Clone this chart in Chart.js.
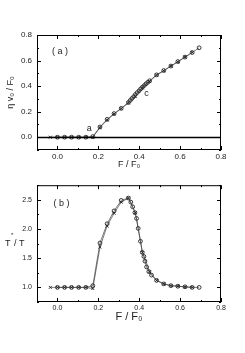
<!DOCTYPE html>
<html>
<head>
<meta charset="utf-8">
<script src="https://cdn.jsdelivr.net/npm/chart.js@4.4.1/dist/chart.umd.min.js"></script>
<style>
  html, body { margin: 0; padding: 0; background: #fff; }
  #wrap { position: relative; width: 245px; height: 353px; }
  canvas { position: absolute; left: 0; }
  #chartA { top: 0; }
  #chartB { top: 176px; }
</style>
</head>
<body>
<div id="wrap">
  <canvas id="chartA" width="245" height="176"></canvas>
  <canvas id="chartB" width="245" height="177"></canvas>
</div>
<script>
// F / F0 for the "x" series (both panels)
const fCross = [-0.035, 0, 0.035, 0.069, 0.104, 0.139, 0.173, 0.208, 0.243, 0.277, 0.312,
  0.347, 0.381, 0.416, 0.451, 0.485, 0.52, 0.555, 0.589, 0.624, 0.659];

// panel (a): eta v0 / F0
const vCrossA = [0, 0, 0, 0, 0, 0, 0, 0.076, 0.135, 0.182, 0.224,
  0.268, 0.318, 0.385, 0.437, 0.486, 0.52, 0.557, 0.59, 0.627, 0.664];
const fCircleA = [0, 0.035, 0.069, 0.104, 0.139, 0.173, 0.208, 0.243, 0.277, 0.312, 0.347,
  0.356, 0.364, 0.373, 0.381, 0.39, 0.399, 0.407, 0.416, 0.425, 0.433, 0.442, 0.451,
  0.485, 0.52, 0.555, 0.589, 0.624, 0.659, 0.693];
const vCircleA = [0, 0, 0, 0, 0, 0.005, 0.08, 0.14, 0.185, 0.226, 0.272,
  0.288, 0.303, 0.318, 0.334, 0.349, 0.363, 0.378, 0.392, 0.405, 0.418, 0.43, 0.442,
  0.488, 0.522, 0.557, 0.592, 0.627, 0.663, 0.70];

// panel (b): T* / T
const tCrossB = [1.0, 1.0, 1.0, 1.0, 1.0, 1.0, 0.98, 1.69, 2.05, 2.27, 2.46,
  2.53, 2.28, 1.60, 1.27, 1.12, 1.06, 1.03, 1.02, 1.01, 1.0];
const fCircleB = [0, 0.035, 0.069, 0.104, 0.139, 0.173, 0.208, 0.243, 0.277, 0.312, 0.347,
  0.359, 0.368, 0.379, 0.387, 0.395, 0.406, 0.415, 0.423, 0.428, 0.436, 0.447, 0.46,
  0.485, 0.52, 0.555, 0.589, 0.624, 0.659, 0.693];
const tCircleB = [1.0, 1.0, 1.0, 1.0, 1.0, 1.03, 1.76, 2.09, 2.31, 2.49, 2.53,
  2.46, 2.38, 2.28, 2.18, 2.01, 1.79, 1.60, 1.53, 1.45, 1.35, 1.27, 1.21,
  1.12, 1.06, 1.03, 1.02, 1.01, 1.0, 1.0];

// tick labels
const xTicks = [0, 0.2, 0.4, 0.6, 0.8];
const xMinor = [-0.1, 0.1, 0.3, 0.5, 0.7];
const yTicksA = [0, 0.2, 0.4, 0.6, 0.8];
const yMinorA = [-0.1, 0.1, 0.3, 0.5, 0.7];
const yTicksB = [1.0, 1.5, 2.0, 2.5];
const yMinorB = [0.75, 1.25, 1.75, 2.25, 2.75];

const ink = '#222';
const FONT = 'Liberation Sans, Arial, sans-serif';

const toPoints = (xs, ys) => xs.map((x, i) => ({ x, y: ys[i] }));

// frame, inward ticks, zero line and the little text notes
const decor = {
  id: 'decor',
  afterDatasetsDraw(chart, args, opts) {
    const { ctx, chartArea: a, scales: { x, y } } = chart;
    ctx.save();
    if (opts.zero) {
      const y0 = Math.round(y.getPixelForValue(0)) + 0.5;
      ctx.strokeStyle = '#000';
      ctx.lineWidth = 1.4;
      ctx.beginPath();
      ctx.moveTo(a.left, y0);
      ctx.lineTo(a.right, y0);
      ctx.stroke();
    }
    ctx.strokeStyle = '#000';
    ctx.lineWidth = 1;
    ctx.strokeRect(a.left + 0.5, a.top + 0.5, a.right - a.left - 1, a.bottom - a.top - 1);

    const xt = (vals, len) => vals.forEach((v) => {
      const px = Math.round(x.getPixelForValue(v)) + 0.5;
      ctx.beginPath();
      ctx.moveTo(px, a.bottom); ctx.lineTo(px, a.bottom - len);
      ctx.moveTo(px, a.top); ctx.lineTo(px, a.top + len);
      ctx.stroke();
    });
    const yt = (vals, len) => vals.forEach((v) => {
      const py = Math.round(y.getPixelForValue(v)) + 0.5;
      ctx.beginPath();
      ctx.moveTo(a.left, py); ctx.lineTo(a.left + len, py);
      ctx.moveTo(a.right, py); ctx.lineTo(a.right - len, py);
      ctx.stroke();
    });
    xt(opts.xMajor, 4);
    xt(opts.xMinor, 2);
    yt(opts.yMajor, 4);
    yt(opts.yMinor, 2);

    ctx.fillStyle = ink;
    ctx.textAlign = 'center';
    ctx.textBaseline = 'middle';
    (opts.notes || []).forEach((n) => {
      ctx.font = n.size + 'px ' + FONT;
      ctx.fillText(n.text, x.getPixelForValue(n.x), y.getPixelForValue(n.y));
    });

    if (opts.sideLabel) {
      const cy = (a.top + a.bottom) / 2;
      ctx.textAlign = 'left';
      ctx.font = '9px ' + FONT;
      ctx.fillText('T', 5, cy);
      ctx.font = '6px ' + FONT;
      ctx.fillText('*', 11, cy - 8);
      ctx.font = '9px ' + FONT;
      ctx.fillText('/ T', 14, cy);
    }
    ctx.restore();
  },
};

function series(xs, ys, style) {
  return {
    data: toPoints(xs, ys),
    showLine: true,
    borderColor: '#444',
    borderWidth: 0.7,
    pointStyle: style,
    pointRadius: style === 'circle' ? 1.9 : 2.1,
    pointBorderWidth: 0.9,
    pointBorderColor: ink,
    pointBackgroundColor: 'rgba(0,0,0,0)',
    clip: false,
  };
}

function makeChart(id, cfg) {
  const ctx = document.getElementById(id).getContext('2d');
  return new Chart(ctx, {
    type: 'scatter',
    data: {
      datasets: [
        series(cfg.xs1, cfg.ys1, 'crossRot'),
        series(cfg.xs2, cfg.ys2, 'circle'),
      ],
    },
    options: {
      responsive: false,
      animation: false,
      layout: { padding: { top: cfg.top, right: 24, left: 0, bottom: 0 } },
      plugins: {
        legend: { display: false },
        tooltip: { enabled: false },
        decor: {
          zero: cfg.zero,
          xMajor: xTicks, xMinor,
          yMajor: cfg.yTicks, yMinor: cfg.yMinor,
          notes: cfg.notes,
          sideLabel: cfg.sideLabel,
        },
      },
      scales: {
        x: {
          type: 'linear',
          min: -0.1,
          max: 0.8,
          grid: { display: false, drawTicks: false },
          border: { display: false },
          afterBuildTicks: (s) => { s.ticks = xTicks.map((v) => ({ value: v })); },
          afterFit: (s) => { s.height = cfg.xHeight; },
          ticks: {
            padding: 2,
            color: ink,
            font: { family: FONT, size: cfg.tickSize },
            callback: (v) => v.toFixed(1),
          },
          title: {
            display: true,
            text: 'F / F\u2080',
            color: ink,
            font: { family: FONT, size: cfg.xTitleSize },
            padding: { top: 0, bottom: cfg.xTitlePad },
          },
        },
        y: {
          type: 'linear',
          min: cfg.yMin,
          max: cfg.yMax,
          grid: { display: false, drawTicks: false },
          border: { display: false },
          afterBuildTicks: (s) => { s.ticks = cfg.yTicks.map((v) => ({ value: v })); },
          afterFit: (s) => { s.width = 37; },
          ticks: {
            padding: 5,
            color: ink,
            font: { family: FONT, size: cfg.tickSize },
            callback: (v) => v.toFixed(1),
          },
          title: {
            display: !!cfg.yTitle,
            text: cfg.yTitle || '',
            color: ink,
            font: { family: FONT, size: 9 },
            padding: { top: 5, bottom: 0 },
          },
        },
      },
    },
    plugins: [decor],
  });
}

makeChart('chartA', {
  xs1: fCross, ys1: vCrossA, xs2: fCircleA, ys2: vCircleA,
  yMin: -0.1, yMax: 0.8, yTicks: yTicksA, yMinor: yMinorA,
  top: 35, xHeight: 26, tickSize: 8, xTitleSize: 9, xTitlePad: 6,
  zero: true,
  yTitle: '\u03B7 v\u2080 / F\u2080',
  notes: [
    { text: '( a )', x: 0.012, y: 0.67, size: 9 },
    { text: 'a', x: 0.155, y: 0.068, size: 9 },
    { text: 'c', x: 0.436, y: 0.343, size: 9 },
  ],
});

makeChart('chartB', {
  xs1: fCross, ys1: tCrossB, xs2: fCircleB, ys2: tCircleB,
  yMin: 0.75, yMax: 2.75, yTicks: yTicksB, yMinor: yMinorB,
  top: 9, xHeight: 51, tickSize: 7, xTitleSize: 11, xTitlePad: 29,
  zero: false,
  sideLabel: true,
  notes: [
    { text: '( b )', x: 0.02, y: 2.43, size: 9 },
  ],
});
</script>
</body>
</html>
